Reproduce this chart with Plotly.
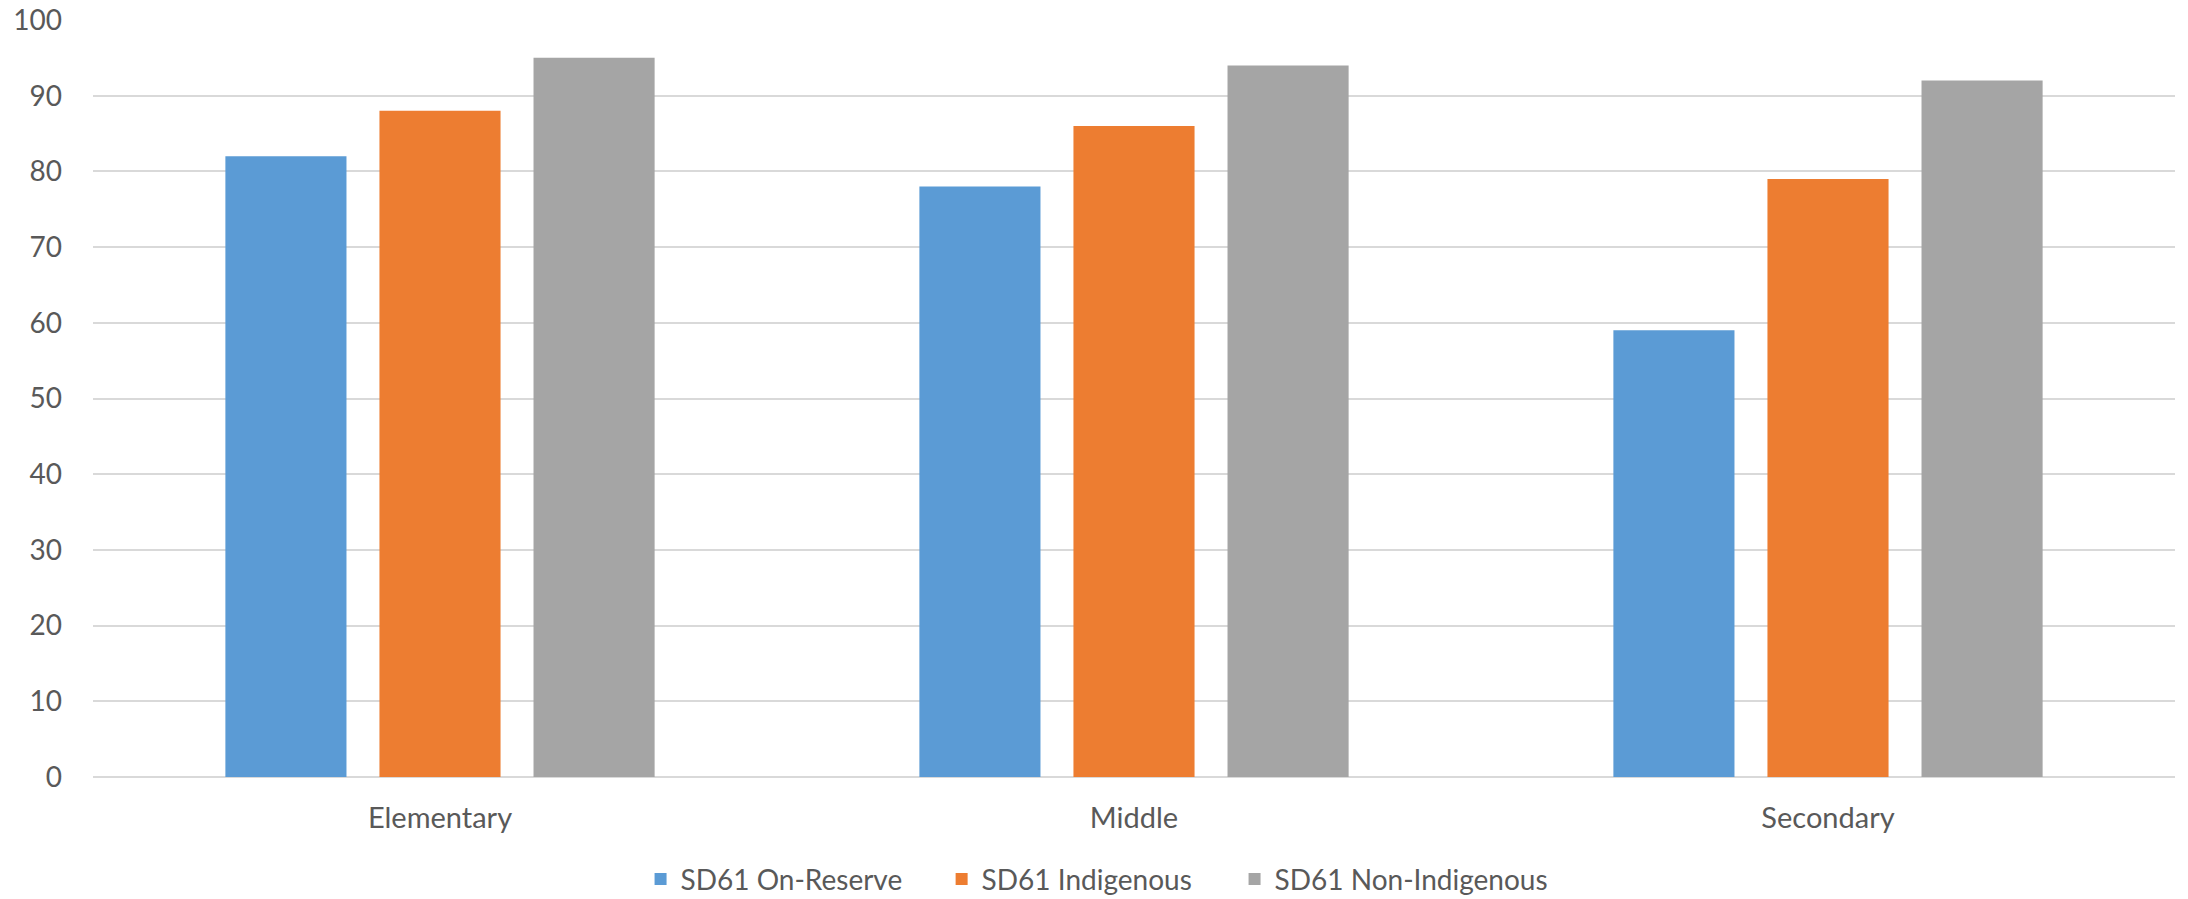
import plotly.graph_objects as go

categories = ["Elementary", "Middle", "Secondary"]
on_reserve = [82, 78, 59]
indigenous = [88, 86, 79]
non_indigenous = [95, 94, 92]
series_names = ["SD61 On-Reserve", "SD61 Indigenous", "SD61 Non-Indigenous"]
colors = ["#5B9BD5", "#ED7D31", "#A5A5A5"]
y_ticks = [0, 10, 20, 30, 40, 50, 60, 70, 80, 90, 100]

FONT = "Lato, Carlito, Calibri, sans-serif"
TEXT = "#595959"

legend_ids = ["legend", "legend2", "legend3"]
legend_x = [0.263, 0.4076, 0.5483]

fig = go.Figure()
for name, vals, col, lid in zip(series_names, [on_reserve, indigenous, non_indigenous], colors, legend_ids):
    fig.add_trace(go.Bar(x=categories, y=vals, name=name, legend=lid,
                         marker=dict(color=col, line=dict(width=0))))

legend_style = dict(orientation="h", xanchor="left", y=-0.135, yanchor="middle",
                    font=dict(size=28, color=TEXT), bgcolor="rgba(0,0,0,0)")

fig.update_layout(
    width=2188, height=899,
    margin=dict(l=93, r=13, t=20, b=122, autoexpand=False),
    paper_bgcolor="white", plot_bgcolor="white",
    barmode="group", bargap=0.334, bargroupgap=0.214,
    font=dict(family=FONT, color=TEXT, size=27),
    showlegend=True,
    legend=dict(x=legend_x[0], **legend_style),
    legend2=dict(x=legend_x[1], **legend_style),
    legend3=dict(x=legend_x[2], **legend_style),
)
fig.update_xaxes(showgrid=False, showline=False, ticks="", tickfont=dict(size=29, color=TEXT),
                 ticklabelstandoff=21, automargin=False)
fig.update_yaxes(range=[0, 100], tickvals=y_ticks, showgrid=True, gridcolor="#D9D9D9", gridwidth=2,
                 zeroline=True, zerolinecolor="#D9D9D9", zerolinewidth=2, showline=False, ticks="",
                 tickfont=dict(size=28, color=TEXT), ticklabelstandoff=30, automargin=False)

fig.write_html("out.html", config={"displayModeBar": False},
               post_script="document.body.style.margin='0';")
